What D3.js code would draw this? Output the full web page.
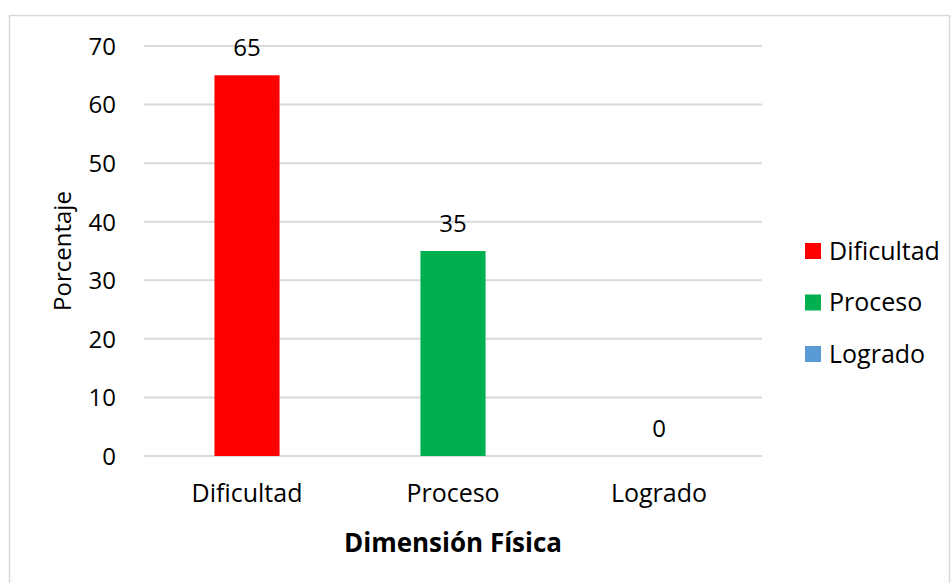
<!DOCTYPE html>
<html>
<head>
<meta charset="utf-8">
<script src="https://cdn.jsdelivr.net/npm/d3@7"></script>
<style>
  body { margin: 0; background: #fff; }
  text { font-family: "Open Sans", sans-serif; fill: #000; }
</style>
</head>
<body>
<svg id="chart" width="952" height="583"></svg>
<script>
var categories = ["Dificultad", "Proceso", "Logrado"];
var values = [65, 35, 0];
var colors = ["#ff0000", "#00b050", "#5b9bd5"];
var yTicks = [0, 10, 20, 30, 40, 50, 60, 70];

var plotLeft = 144, plotRight = 762, plotTop = 46, plotBottom = 456;

var svg = d3.select("#chart");

// marco del grafico
svg.append("rect")
  .attr("x", 9.5).attr("y", 15.5)
  .attr("width", 940).attr("height", 575)
  .attr("fill", "none").attr("stroke", "#d9d9d9").attr("stroke-width", 1.5);

var x = d3.scaleBand().domain(categories).range([plotLeft, plotRight]).padding(0);
var y = d3.scaleLinear().domain([0, 70]).range([plotBottom, plotTop]);

// lineas guia
svg.append("g").selectAll("line")
  .data(yTicks).enter()
  .append("line")
  .attr("x1", plotLeft).attr("x2", plotRight)
  .attr("y1", function(d){ return y(d); })
  .attr("y2", function(d){ return y(d); })
  .attr("stroke", "#d9d9d9").attr("stroke-width", 2);

// eje Y
var yAxis = svg.append("g")
  .attr("transform", "translate(" + plotLeft + ",0)")
  .call(d3.axisLeft(y).tickValues(yTicks).tickSize(0).tickPadding(28));
yAxis.select(".domain").remove();
yAxis.selectAll("text").style("font-size", "24px").attr("dy", "0.35em");

// eje X
var xAxis = svg.append("g")
  .attr("transform", "translate(0," + plotBottom + ")")
  .call(d3.axisBottom(x).tickSize(0).tickPadding(28));
xAxis.select(".domain").remove();
xAxis.selectAll("text").style("font-size", "25px");

var barW = x.bandwidth() * 0.316;

svg.append("g").selectAll("rect")
  .data(values).enter()
  .append("rect")
  .attr("x", function(d, i){ return x(categories[i]) + (x.bandwidth() - barW) / 2; })
  .attr("y", function(d){ return y(d); })
  .attr("width", barW)
  .attr("height", function(d){ return y(0) - y(d); })
  .attr("fill", function(d, i){ return colors[i]; });

// etiquetas de valores
svg.append("g").selectAll("text")
  .data(values).enter()
  .append("text")
  .attr("x", function(d, i){ return x(categories[i]) + x.bandwidth() / 2; })
  .attr("y", function(d){ return y(d) - 19; })
  .attr("text-anchor", "middle")
  .style("font-size", "24px")
  .text(function(d){ return d; });

// titulos
svg.append("text")
  .attr("x", (plotLeft + plotRight) / 2).attr("y", 552)
  .attr("text-anchor", "middle")
  .style("font-size", "26px").style("font-weight", "bold")
  .text("Dimensión Física");

svg.append("text")
  .attr("transform", "translate(71," + ((plotTop + plotBottom) / 2) + ") rotate(-90)")
  .attr("text-anchor", "middle")
  .style("font-size", "24px")
  .text("Porcentaje");

// leyenda
var legend = svg.append("g").selectAll("g")
  .data(categories).enter()
  .append("g")
  .attr("transform", function(d, i){ return "translate(805," + (251 + i * 51.5) + ")"; });
legend.append("rect")
  .attr("x", 0).attr("y", -8).attr("width", 16).attr("height", 16)
  .attr("fill", function(d, i){ return colors[i]; });
legend.append("text")
  .attr("x", 24).attr("dy", "0.35em")
  .style("font-size", "25px")
  .text(function(d){ return d; });
</script>
</body>
</html>
